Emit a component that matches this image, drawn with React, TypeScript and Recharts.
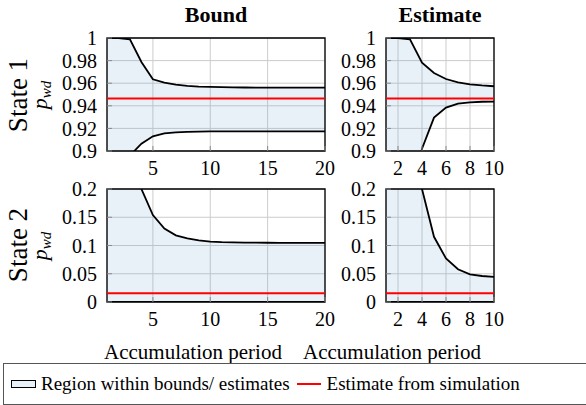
import React from "react";
import {
  ComposedChart,
  Area,
  Line,
  XAxis,
  YAxis,
  CartesianGrid,
  ReferenceLine,
  ReferenceArea,
} from "recharts";

const boundPeriods = [1, 2, 3, 4, 5, 6, 7, 8, 9, 10, 11, 12, 13, 14, 15, 16, 17, 18, 19, 20];
const estimatePeriods = [1, 2, 3, 4, 5, 6, 7, 8, 9, 10];

// State 1, bounds
const boundState1Upper = [1.0, 1.0, 0.9988, 0.9788, 0.9635, 0.9605, 0.9588, 0.9577, 0.957, 0.9567, 0.9565, 0.9563, 0.9562, 0.9561, 0.9561, 0.956, 0.956, 0.956, 0.956, 0.956];
const boundState1Lower = [0.85, 0.87, 0.896, 0.9065, 0.913, 0.9156, 0.9165, 0.917, 0.9172, 0.9173, 0.9173, 0.9174, 0.9174, 0.9174, 0.9174, 0.9174, 0.9174, 0.9174, 0.9174, 0.9174];
// State 2, bounds
const boundState2Upper = [0.5, 0.4, 0.3, 0.2, 0.154, 0.13, 0.118, 0.1125, 0.109, 0.107, 0.106, 0.1055, 0.1052, 0.105, 0.1049, 0.1048, 0.1048, 0.1047, 0.1047, 0.1047];
const boundState2Lower = [0, 0, 0, 0, 0, 0, 0, 0, 0, 0, 0, 0, 0, 0, 0, 0, 0, 0, 0, 0];

// State 1, estimates
const estState1Upper = [1.0, 1.0, 0.9988, 0.9782, 0.969, 0.9637, 0.9608, 0.959, 0.958, 0.9573];
const estState1Lower = [0.75, 0.8, 0.85, 0.902, 0.9296, 0.9384, 0.942, 0.9431, 0.9436, 0.9437];
// State 2, estimates
const estState2Upper = [0.6, 0.45, 0.3, 0.2, 0.1154, 0.077, 0.058, 0.049, 0.046, 0.0444];
const estState2Lower = [0, 0, 0, 0, 0, 0, 0, 0, 0, 0];

// estimate from simulation
const simState1 = 0.9465;
const simState2 = 0.0154;

const boundTicks = [5, 10, 15, 20];
const estimateTicks = [2, 4, 6, 8, 10];
const state1Ticks = [0.9, 0.92, 0.94, 0.96, 0.98, 1];
const state2Ticks = [0, 0.05, 0.1, 0.15, 0.2];

const FONT = "'Liberation Serif', 'Times New Roman', serif";
const FILL = "#669bd0";
const TICK_COLOR = "#8a8a8a";

interface PanelProps {
  left: number;
  top: number;
  width: number;
  yWidth: number;
  marginRight: number;
  periods: number[];
  upper: number[];
  lower: number[];
  sim: number;
  xTicks: number[];
  yTicks: number[];
}

function Panel({ left, top, width, yWidth, marginRight, periods, upper, lower, sim, xTicks, yTicks }: PanelProps) {
  const data = periods.map((p, i) => ({
    period: p,
    upper: upper[i],
    lower: lower[i],
    range: [lower[i], upper[i]],
  }));
  const yMin = yTicks[0];
  const yMax = yTicks[yTicks.length - 1];
  const xMin = periods[0];
  const xMax = periods[periods.length - 1];
  const tickStyle = { fill: "#000", fontSize: 20, fontFamily: FONT };
  const tickLine = { stroke: TICK_COLOR, strokeWidth: 1 };
  const blank = () => "";

  return (
    <div style={{ position: "absolute", left, top }}>
      <ComposedChart
        width={width}
        height={153}
        data={data}
        margin={{ top: 10, right: marginRight, bottom: 0, left: 0 }}
      >
        <CartesianGrid stroke="#cccccc" strokeWidth={1} />
        {/* ticks point into the plot, labels sit outside */}
        <XAxis
          dataKey="period"
          type="number"
          domain={[xMin, xMax]}
          ticks={xTicks}
          height={30}
          axisLine={false}
          tickLine={tickLine}
          tickSize={-5}
          tickMargin={15}
          tick={tickStyle}
          interval={0}
        />
        <XAxis
          xAxisId="top"
          orientation="top"
          type="number"
          domain={[xMin, xMax]}
          ticks={xTicks}
          height={0}
          axisLine={false}
          tickLine={tickLine}
          tickSize={-5}
          tickFormatter={blank}
          interval={0}
        />
        <YAxis
          type="number"
          domain={[yMin, yMax]}
          ticks={yTicks}
          allowDataOverflow
          width={yWidth}
          axisLine={false}
          tickLine={tickLine}
          tickSize={-5}
          tickMargin={15}
          tick={tickStyle}
          interval={0}
        />
        <YAxis
          yAxisId="right"
          orientation="right"
          type="number"
          domain={[yMin, yMax]}
          ticks={yTicks}
          allowDataOverflow
          width={0}
          axisLine={false}
          tickLine={tickLine}
          tickSize={-5}
          tickFormatter={blank}
          interval={0}
        />
        <Area
          dataKey="range"
          type="linear"
          stroke="none"
          fill={FILL}
          fillOpacity={0.15}
          isAnimationActive={false}
        />
        <Line dataKey="upper" type="linear" stroke="#000" strokeWidth={1.8} dot={false} isAnimationActive={false} />
        <Line dataKey="lower" type="linear" stroke="#000" strokeWidth={1.8} dot={false} isAnimationActive={false} />
        <ReferenceLine y={sim} stroke="#ff0000" strokeWidth={2} />
        <ReferenceArea
          x1={xMin}
          x2={xMax}
          y1={yMin}
          y2={yMax}
          fill="none"
          stroke="#000"
          strokeWidth={1.3}
          ifOverflow="visible"
        />
      </ComposedChart>
    </div>
  );
}

export default function App() {
  return (
    <div
      style={{
        position: "absolute",
        left: 0,
        top: 0,
        width: 586,
        height: 405,
        overflow: "hidden",
        background: "#fff",
        fontFamily: FONT,
      }}
    >
      {/* titles and row labels */}
      <svg width={586} height={405} style={{ position: "absolute", left: 0, top: 0 }}>
        <text x={216} y={22} textAnchor="middle" fontSize={22} fontWeight="bold" fontFamily={FONT}>
          Bound
        </text>
        <text x={440} y={22} textAnchor="middle" fontSize={22} fontWeight="bold" fontFamily={FONT}>
          Estimate
        </text>
        <text x={27} y={95} textAnchor="middle" fontSize={27} fontFamily={FONT} transform="rotate(-90 27 95)">
          State 1
        </text>
        <text x={47} y={95} textAnchor="middle" fontSize={22} fontStyle="italic" fontFamily={FONT} transform="rotate(-90 47 95)">
          p<tspan fontSize={15} dy={4}>wd</tspan>
        </text>
        <text x={27} y={245} textAnchor="middle" fontSize={27} fontFamily={FONT} transform="rotate(-90 27 245)">
          State 2
        </text>
        <text x={47} y={246} textAnchor="middle" fontSize={22} fontStyle="italic" fontFamily={FONT} transform="rotate(-90 47 246)">
          p<tspan fontSize={15} dy={4}>wd</tspan>
        </text>
        <text x={193} y={359} textAnchor="middle" fontSize={21} fontFamily={FONT}>
          Accumulation period
        </text>
        <text x={392} y={359} textAnchor="middle" fontSize={21} fontFamily={FONT}>
          Accumulation period
        </text>
      </svg>

      <Panel left={0} top={28} width={340} yWidth={107} marginRight={15} periods={boundPeriods}
        upper={boundState1Upper} lower={boundState1Lower} sim={simState1} xTicks={boundTicks} yTicks={state1Ticks} />
      <Panel left={330} top={28} width={184} yWidth={56} marginRight={20} periods={estimatePeriods}
        upper={estState1Upper} lower={estState1Lower} sim={simState1} xTicks={estimateTicks} yTicks={state1Ticks} />
      <Panel left={0} top={179} width={340} yWidth={107} marginRight={15} periods={boundPeriods}
        upper={boundState2Upper} lower={boundState2Lower} sim={simState2} xTicks={boundTicks} yTicks={state2Ticks} />
      <Panel left={330} top={179} width={184} yWidth={56} marginRight={20} periods={estimatePeriods}
        upper={estState2Upper} lower={estState2Lower} sim={simState2} xTicks={estimateTicks} yTicks={state2Ticks} />

      {/* legend */}
      <div
        style={{
          position: "absolute",
          left: 3,
          top: 363,
          width: 600,
          height: 40,
          border: "1px solid #555",
          display: "flex",
          alignItems: "center",
          fontSize: 19,
          whiteSpace: "nowrap",
        }}
      >
        <span
          style={{
            display: "inline-block",
            width: 23,
            height: 6,
            marginLeft: 7,
            marginRight: 5,
            background: "#e8f0f8",
            border: "1.5px solid #000",
          }}
        />
        <span>Region within bounds/ estimates</span>
        <span
          style={{
            display: "inline-block",
            width: 24,
            height: 2,
            marginLeft: 7,
            marginRight: 6,
            background: "#ff0000",
          }}
        />
        <span>Estimate from simulation</span>
      </div>
    </div>
  );
}
